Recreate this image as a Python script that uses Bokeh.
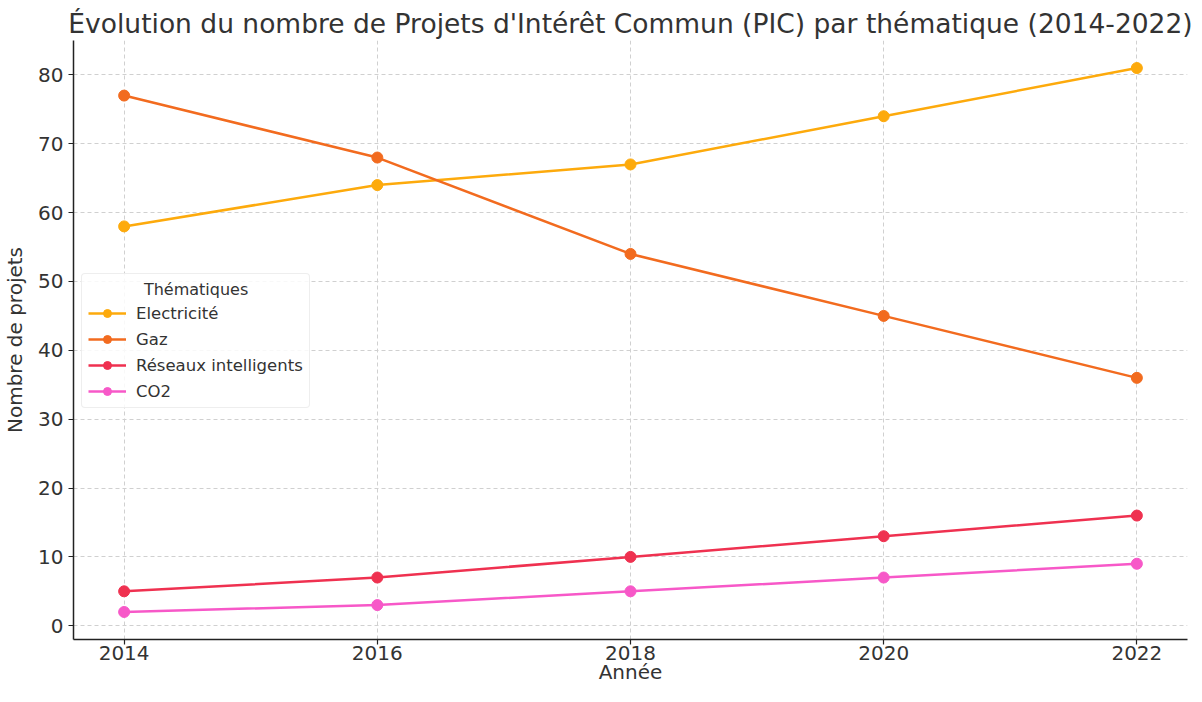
from bokeh.plotting import figure
from bokeh.models import Legend, LegendItem, Range1d, FixedTicker
from bokeh.embed import file_html
from bokeh.resources import INLINE

years = [2014, 2016, 2018, 2020, 2022]
electricite = [58, 64, 67, 74, 81]
gaz = [77, 68, 54, 45, 36]
reseaux = [5, 7, 10, 13, 16]
co2 = [2, 3, 5, 7, 9]
labels = ["Electricité", "Gaz", "Réseaux intelligents", "CO2"]
colors = ["#FDAA0C", "#F26B1F", "#EF3150", "#F758C8"]
series = [electricite, gaz, reseaux, co2]

FONT = "DejaVu Sans"
TXT = "#333333"

p = figure(width=1194, height=686, output_backend="svg", toolbar_location=None,
           x_range=Range1d(2013.6, 2022.4), y_range=Range1d(-2.0, 85.0),
           min_border_left=64, min_border_right=7, min_border_bottom=40, min_border_top=40,
           title="Évolution du nombre de Projets d'Intérêt Commun (PIC) par thématique (2014-2022)")
p.outline_line_color = None
p.title.align = "center"
p.title.text_font = FONT
p.title.text_font_size = "26.5px"
p.title.text_font_style = "normal"
p.title.text_color = TXT
p.title.standoff = 3

items = []
for vals, lab, col in zip(series, labels, colors):
    l = p.line(years, vals, line_color=col, line_width=2.5)
    s = p.scatter(years, vals, size=11, fill_color=col, line_color=col)
    items.append(LegendItem(label=lab, renderers=[l, s]))

for ax in (p.xaxis[0], p.yaxis[0]):
    ax.axis_line_color = "#222222"
    ax.axis_line_width = 1.5
    ax.major_tick_line_color = "#222222"
    ax.major_tick_line_width = 1.2
    ax.major_tick_out = 5
    ax.major_tick_in = 0
    ax.minor_tick_line_color = None
    ax.major_label_text_font = FONT
    ax.major_label_text_font_size = "20px"
    ax.major_label_text_color = TXT
    ax.axis_label_text_font = FONT
    ax.axis_label_text_font_size = "20px"
    ax.axis_label_text_font_style = "normal"
    ax.axis_label_text_color = TXT

p.xaxis.ticker = FixedTicker(ticks=years)
p.yaxis.ticker = FixedTicker(ticks=[0, 10, 20, 30, 40, 50, 60, 70, 80])
p.xaxis.axis_label = "Année"
p.yaxis.axis_label = "Nombre de projets"
p.xaxis.major_label_standoff = 1
p.xaxis.axis_label_standoff = -3
p.yaxis.major_label_standoff = 5
p.yaxis.axis_label_standoff = 8

p.grid.grid_line_color = "#d0d0d0"
p.grid.grid_line_dash = "4 3"
p.grid.grid_line_width = 1

legend = Legend(items=items, location=(8, 231), title="\u00a0" * 11 + "Thématiques")
legend.title_text_font = FONT
legend.title_text_font_size = "16px"
legend.title_text_font_style = "normal"
legend.title_text_color = TXT
legend.label_text_font = FONT
legend.label_text_font_size = "16.5px"
legend.label_text_color = TXT
legend.border_line_color = "#dddddd"
legend.border_line_width = 1
legend.border_radius = 4
legend.background_fill_alpha = 0.85
legend.glyph_width = 38
legend.glyph_height = 20
legend.label_height = 20
legend.label_standoff = 10
legend.spacing = 6
legend.padding = 6
legend.margin = 0
legend.title_standoff = 4
p.add_layout(legend, "center")

open("out.html", "w").write(file_html(p, INLINE))
